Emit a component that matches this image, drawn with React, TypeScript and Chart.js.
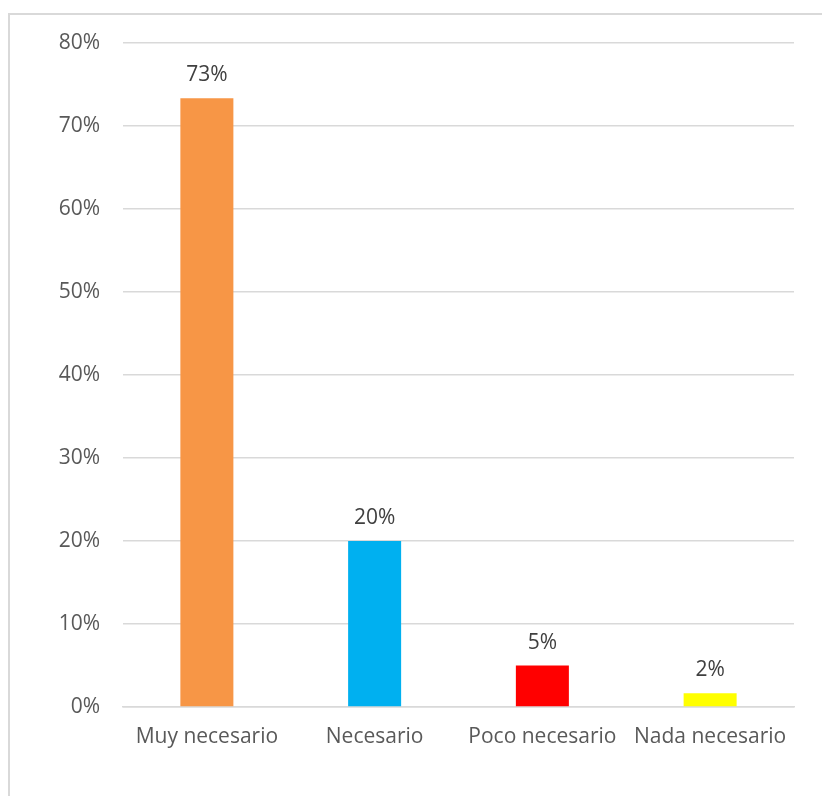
import React, { useEffect, useRef } from "react";
import { Chart, registerables } from "chart.js";

Chart.register(...registerables);

const categories = ["Muy necesario", "Necesario", "Poco necesario", "Nada necesario"];
const values = [73.33, 20, 5, 1.67];
const barColors = ["#f79646", "#00b0f0", "#ff0000", "#ffff00"];
const yTicks = [0, 10, 20, 30, 40, 50, 60, 70, 80];

const FONT = "'Open Sans', 'Liberation Sans', sans-serif";

const valueLabels = {
  id: "valueLabels",
  afterDatasetsDraw(chart: any) {
    const ctx = chart.ctx;
    const meta = chart.getDatasetMeta(0);
    ctx.save();
    ctx.font = `21px ${FONT}`;
    ctx.fillStyle = "#404040";
    ctx.textAlign = "center";
    ctx.textBaseline = "alphabetic";
    meta.data.forEach((el: any, i: number) => {
      const v = chart.data.datasets[0].data[i] as number;
      ctx.fillText(`${Math.round(v)}%`, el.x, el.y - 17);
    });
    ctx.restore();
  },
};

export default function App() {
  const ref = useRef<HTMLCanvasElement>(null);
  useEffect(() => {
    if (!ref.current) return;
    const chart = new Chart(ref.current, {
      type: "bar",
      data: {
        labels: categories,
        datasets: [
          {
            data: values,
            backgroundColor: barColors,
            borderWidth: 0,
            categoryPercentage: 1,
            barPercentage: 0.316,
          },
        ],
      },
      options: {
        animation: false,
        responsive: false,
        maintainAspectRatio: false,
        layout: { padding: { left: 0, right: 28, top: 43, bottom: 0 } },
        plugins: {
          legend: { display: false },
          tooltip: { enabled: false },
        },
        scales: {
          x: {
            grid: { display: false, drawTicks: false },
            border: { display: true, color: "#d9d9d9", width: 1.5 },
            ticks: {
              color: "#595959",
              font: { family: FONT, size: 21 },
              padding: 17,
              maxRotation: 0,
              autoSkip: false,
            },
            afterFit(scale: any) {
              scale.height = 89;
            },
          },
          y: {
            min: 0,
            max: 80,
            afterBuildTicks(scale: any) {
              scale.ticks = yTicks.map((v) => ({ value: v }));
            },
            grid: { color: "#d9d9d9", lineWidth: 1.5, drawTicks: false },
            border: { display: false },
            ticks: {
              color: "#595959",
              font: { family: FONT, size: 21 },
              padding: 23,
              callback: (v: any) => `${v}%`,
            },
            afterFit(scale: any) {
              scale.width = 123;
            },
          },
        },
      },
      plugins: [valueLabels],
    });
    return () => chart.destroy();
  }, []);
  return (
    <div>
      <div
        style={{
          position: "absolute",
          left: 8,
          top: 13,
          width: 830,
          height: 800,
          borderLeft: "2px solid #d9d9d9",
          borderTop: "2px solid #d9d9d9",
          boxSizing: "border-box",
        }}
      />
      <canvas
        ref={ref}
        width={822}
        height={796}
        style={{ position: "absolute", left: 0, top: 0, width: 822, height: 796 }}
      />
    </div>
  );
}
